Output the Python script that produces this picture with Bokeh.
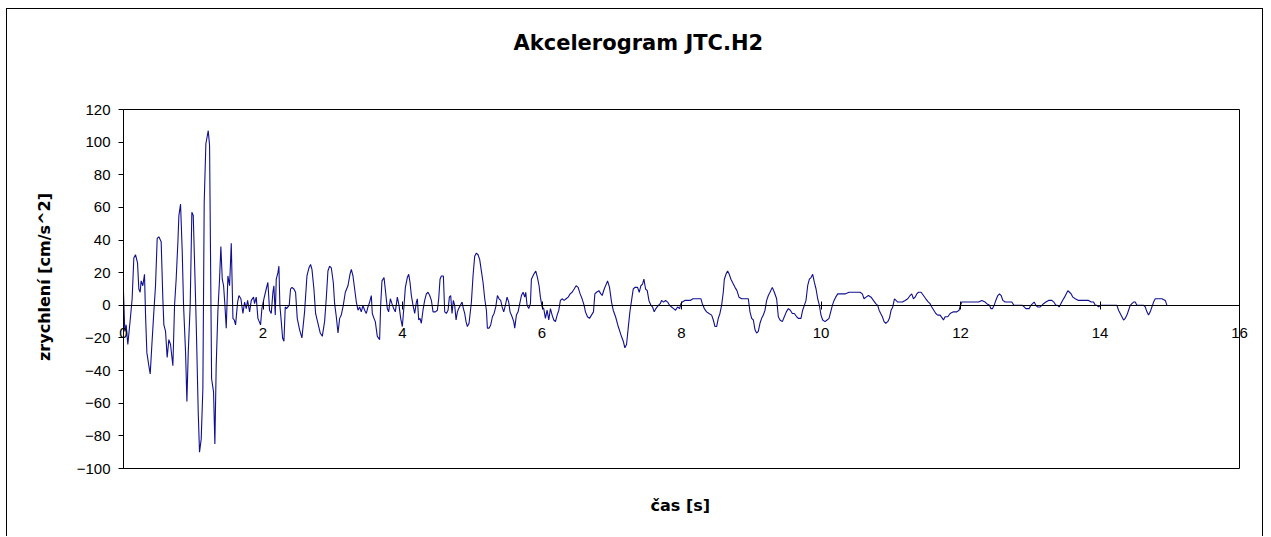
from bokeh.plotting import figure
from bokeh.models import Range1d, FixedTicker, LinearAxis, Title
from bokeh.embed import file_html
from bokeh.resources import INLINE

# --- digitised accelerogram, split into time windows ---
t_0_2 = [0.000, 0.019, 0.038, 0.062, 0.096, 0.124, 0.148, 0.172, 0.201, 0.220, 0.239, 0.253, 0.277, 0.301,
         0.316, 0.335, 0.363, 0.383, 0.407, 0.435, 0.459, 0.483, 0.507, 0.540, 0.564, 0.579, 0.603, 0.626,
         0.650, 0.674, 0.708, 0.732, 0.755, 0.780, 0.794, 0.818, 0.842, 0.861, 0.890, 0.909, 0.928, 0.956,
         0.980, 1.000, 1.023, 1.043, 1.071, 1.090, 1.114, 1.138, 1.157, 1.181, 1.215, 1.234, 1.263, 1.291,
         1.310, 1.329, 1.353, 1.377, 1.396, 1.416, 1.435, 1.454, 1.473, 1.497, 1.521, 1.545, 1.569, 1.588,
         1.607, 1.636, 1.655, 1.683, 1.712, 1.736, 1.760, 1.779, 1.808, 1.832, 1.865]
a_0_2 = [8, -16, -12, -24, -9, 4, 29, 31, 26, 10, 8, 15, 12, 19,
         -6, -29, -37, -42, -24, -4, 12, 41, 42, 39, 4, -12, -16, -32,
         -21, -24, -37, 0, 16, 39, 55, 62, 33, 0, -29, -59, -29, 0,
         57, 55, 20, -12, -65, -90, -82, -51, 63, 99, 107, 98, -45, -53,
         -85, -37, -4, 16, 36, 16, 12, 0, -14, 18, 12, 38, -8, -9,
         -12, 2, 6, 4, -5, 2, -2, 3, -4, 3, 5]

t_2_4 = [1.879, 1.903, 1.927, 1.965, 1.984, 2.013, 2.046, 2.070, 2.094, 2.118, 2.142, 2.156, 2.176, 2.190,
         2.214, 2.228, 2.242, 2.262, 2.281, 2.300, 2.319, 2.338, 2.357, 2.376, 2.395, 2.415, 2.443, 2.467,
         2.491, 2.525, 2.558, 2.596, 2.630, 2.659, 2.682, 2.702, 2.730, 2.754, 2.788, 2.821, 2.850, 2.883,
         2.907, 2.931, 2.955, 2.979, 3.008, 3.027, 3.051, 3.075, 3.099, 3.122, 3.151, 3.180, 3.218, 3.247,
         3.266, 3.290, 3.314, 3.338, 3.362, 3.385, 3.409, 3.433, 3.457, 3.481, 3.505, 3.529, 3.553, 3.567,
         3.591, 3.610, 3.639, 3.672, 3.687, 3.706, 3.735, 3.758, 3.782, 3.801, 3.826, 3.849, 3.873, 3.897,
         3.926, 3.950, 3.974, 3.998, 4.022, 4.041, 4.069, 4.089, 4.108, 4.127, 4.151, 4.175, 4.199, 4.213,
         4.232, 4.251, 4.270, 4.294]
a_2_4 = [1, 5, -8, -12, -2, 4, 10, 14, -3, -5, 8, 12, -6, 16,
         20, 24, 0, -10, -20, -22, -1, -2, -1, 0, 10, 11, 10, 8,
         -8, -15, -20, -4, 18, 23, 25, 22, 10, -5, -11, -17, -19, -10,
         4, 21, 24, 23, 14, 1, -7, -17, -8, -6, 0, 8, 12, 19,
         22, 18, 10, 2, -3, -1, -4, 0, -3, -5, -1, 2, 6, -5,
         -8, -10, -19, -21, 0, 15, 17, 8, -2, -4, 4, 1, -2, -4,
         5, 0, -8, -13, 0, 11, 17, 19, 14, 6, 0, -5, 2, 4,
         -9, -8, -11, -3]

t_4_7 = [4.318, 4.342, 4.366, 4.390, 4.414, 4.438, 4.471, 4.500, 4.519, 4.538, 4.557, 4.586, 4.605, 4.629,
         4.653, 4.672, 4.691, 4.710, 4.729, 4.748, 4.768, 4.787, 4.806, 4.830, 4.854, 4.873, 4.892, 4.911,
         4.930, 4.954, 4.988, 5.011, 5.035, 5.059, 5.083, 5.107, 5.131, 5.155, 5.179, 5.203, 5.217, 5.241,
         5.265, 5.289, 5.313, 5.337, 5.361, 5.384, 5.408, 5.428, 5.451, 5.475, 5.499, 5.523, 5.542, 5.571,
         5.595, 5.609, 5.633, 5.657, 5.681, 5.705, 5.729, 5.753, 5.767, 5.786, 5.810, 5.834, 5.848, 5.882,
         5.911, 5.935, 5.958, 5.977, 6.001, 6.025, 6.049, 6.073, 6.097, 6.121, 6.145, 6.169, 6.193, 6.217,
         6.241, 6.264, 6.288, 6.317, 6.346, 6.375, 6.403, 6.432, 6.461, 6.489, 6.518, 6.547, 6.575, 6.604,
         6.623, 6.652, 6.681, 6.709, 6.738]
a_4_7 = [3, 7, 8, 6, 3, -4, -4, -3, 4, 16, 18, 18, -4, -5,
         -3, 5, 6, -5, 3, 0, -9, -4, -2, 0, 2, -2, -5, -10,
         -13, -11, 2, 18, 30, 32, 31, 28, 21, 14, 4, -3, -14, -14,
         -12, -7, -5, -1, 6, 4, 3, -1, -4, 0, 5, 2, -4, -7,
         -10, -14, -6, -4, 1, 6, 8, 5, 8, 0, -2, 1, 16, 19,
         21, 17, 12, 5, -1, -2, -8, -3, -9, -2, -6, -9, -10, -6,
         -3, 3, 4, 3, 4, 5, 7, 8, 10, 12, 11, 7, 4, 0,
         -4, -7, -8, -6, -4]

t_7_9 = [6.758, 6.782, 6.815, 6.844, 6.863, 6.892, 6.921, 6.940, 6.968, 6.997, 7.021, 7.055, 7.093, 7.131,
         7.165, 7.188, 7.212, 7.236, 7.260, 7.284, 7.308, 7.332, 7.370, 7.394, 7.418, 7.442, 7.461, 7.485,
         7.509, 7.533, 7.561, 7.585, 7.609, 7.633, 7.667, 7.695, 7.714, 7.743, 7.772, 7.801, 7.829, 7.858,
         7.887, 7.915, 7.944, 7.973, 7.992, 8.011, 8.049, 8.088, 8.126, 8.164, 8.202, 8.241, 8.279, 8.298,
         8.327, 8.360, 8.394, 8.432, 8.456, 8.480, 8.504, 8.527, 8.551, 8.575, 8.599, 8.614, 8.637, 8.661,
         8.685, 8.709, 8.743, 8.767, 8.795, 8.824, 8.862, 8.910, 8.958, 8.982, 9.006, 9.030, 9.054, 9.077,
         9.101, 9.125, 9.149, 9.173]
a_7_9 = [7, 8, 9, 7, 6, 10, 13, 15, 11, 2, -3, -7, -13, -18,
         -22, -26, -24, -14, -4, 3, 10, 11, 11, 8, 12, 13, 16, 10,
         9, 3, 0, -1, -4, -2, 0, 1, 3, 2, 3, 2, 0, -1,
         -2, -3, -1, -2, 1, 2, 3, 3, 3, 4, 4, 4, 4, 1,
         -2, -4, -5, -6, -9, -13, -13, -8, -5, 0, 8, 16, 19, 21,
         19, 16, 13, 11, 9, 5, 4, 4, 4, -4, -8, -9, -15, -17,
         -16, -11, -8, -6]

t_9_12 = [9.197, 9.221, 9.245, 9.269, 9.302, 9.331, 9.364, 9.388, 9.412, 9.446, 9.474, 9.503, 9.532, 9.560,
          9.589, 9.618, 9.651, 9.675, 9.713, 9.737, 9.761, 9.785, 9.809, 9.833, 9.857, 9.881, 9.905, 9.929,
          9.953, 9.977, 10.000, 10.024, 10.058, 10.087, 10.115, 10.139, 10.163, 10.187, 10.211, 10.240,
          10.287, 10.345, 10.402, 10.450, 10.512, 10.560, 10.593, 10.617, 10.646, 10.680, 10.718, 10.751,
          10.785, 10.813, 10.833, 10.856, 10.880, 10.904, 10.928, 10.957, 10.981, 11.005, 11.029, 11.053,
          11.076, 11.100, 11.134, 11.167, 11.206, 11.244, 11.277, 11.301, 11.325, 11.349, 11.373, 11.397,
          11.435, 11.469, 11.502, 11.540, 11.564, 11.588, 11.617, 11.646, 11.674, 11.708]
a_9_12 = [-3, 3, 6, 8, 11, 8, 4, -7, -9, -10, -7, -4, -2, -3,
          -5, -5, -7, -8, -8, -3, 0, 3, 12, 16, 17, 19, 14, 10,
          4, 0, -6, -9, -10, -9, -8, -4, 0, 3, 5, 7,
          7, 7, 8, 8, 8, 8, 7, 4, 5, 6, 5, 3,
          1, 0, -3, -5, -7, -10, -11, -10, -8, -3, -1, 4,
          3, 2, 2, 2, 3, 4, 6, 7, 4, 5, 7, 8,
          8, 6, 4, 2, 1, -1, -3, -5, -6, -6]

t_12_14 = [11.741, 11.756, 11.779, 11.818, 11.851, 11.899, 11.947, 11.980, 11.999, 12.019, 12.066, 12.114,
           12.162, 12.210, 12.258, 12.306, 12.353, 12.377, 12.416, 12.435, 12.459, 12.483, 12.506, 12.535,
           12.559, 12.583, 12.607, 12.640, 12.688, 12.736, 12.765, 12.808, 12.856, 12.889, 12.913, 12.937,
           12.961, 12.985, 13.009, 13.033, 13.056, 13.080, 13.109, 13.142, 13.166, 13.190, 13.224, 13.262,
           13.310, 13.338, 13.367, 13.391, 13.415, 13.439, 13.463, 13.492, 13.515, 13.539, 13.563, 13.587,
           13.611, 13.645, 13.692, 13.740, 13.788, 13.836, 13.874, 13.908, 13.932, 13.956, 13.979]
a_12_14 = [-8, -9, -7, -7, -5, -4, -4, -3, 0, 2, 2, 2,
           2, 2, 2, 3, 2, 1, 0, -2, -2, 0, 3, 6,
           7, 6, 3, 2, 2, 2, 0, 0, 0, 0, -1, -2,
           -2, -2, 0, 1, 2, 0, -1, -1, 0, 1, 2, 3,
           3, 2, 0, 0, -1, 1, 3, 5, 7, 9, 8, 7,
           5, 4, 3, 3, 3, 3, 2, 2, 0, 0, -1]

t_14_15 = [14.003, 14.099, 14.170, 14.242, 14.266, 14.290, 14.314, 14.338, 14.362, 14.386, 14.410, 14.433,
           14.457, 14.481, 14.505, 14.529, 14.577, 14.625, 14.649, 14.673, 14.696, 14.720, 14.744, 14.768,
           14.792, 14.840, 14.888, 14.936, 14.960]
a_14_15 = [0, 0, 0, 0, -3, -5, -7, -9, -8, -6, -3, 0,
           1, 2, 2, 0, 0, 0, -1, -4, -6, -4, -1, 2,
           4, 4, 4, 3, 0]

x_ticks = [0, 2, 4, 6, 8, 10, 12, 14, 16]
y_ticks = [-100, -80, -60, -40, -20, 0, 20, 40, 60, 80, 100, 120]

title_text = "Akcelerogram JTC.H2"
x_label = "čas [s]"
y_label = "zrychlení [cm/s^2]"

time_s = t_0_2 + t_2_4 + t_4_7 + t_7_9 + t_9_12 + t_12_14 + t_14_15
accel = a_0_2 + a_2_4 + a_4_7 + a_7_9 + a_9_12 + a_12_14 + a_14_15

TICK_FONT = "Liberation Sans"
LABEL_FONT = "DejaVu Sans"

# layout (pixels): the Bokeh frame is larger than the drawn plot area so that
# tick labels of the axes that cross inside it are never clipped
AREA_W, AREA_H = 1116, 359          # drawn plot-area size
PAD_L, PAD_R, PAD_T, PAD_B = 56, 18, 40, 16
x0, x1 = x_ticks[0], x_ticks[-1]
y0, y1 = y_ticks[0], y_ticks[-1]
sx = (x1 - x0) / AREA_W
sy = (y1 - y0) / AREA_H
x_range = Range1d(x0 - PAD_L * sx, x1 + PAD_R * sx)
y_range = Range1d(y0 - PAD_B * sy, y1 + PAD_T * sy)

p = figure(width=1257, height=528, output_backend="svg", toolbar_location=None, title=None,
           x_range=x_range, y_range=y_range,
           min_border_left=60, min_border_right=7, min_border_top=60, min_border_bottom=53,
           background_fill_color="white", border_fill_color="white")

p.styles = {"margin-left": "6px", "margin-top": "8px",
            "border-left": "1px solid #000", "border-top": "1px solid #000",
            "border-right": "1px solid #000"}

p.xgrid.visible = False
p.ygrid.visible = False
p.outline_line_color = None

# chart title, centred on the whole chart area
p.add_layout(Title(text=title_text, align="left", offset=446, standoff=29,
                   vertical_align="bottom", text_font=LABEL_FONT, text_font_size="21px",
                   text_font_style="bold", text_color="black"), "above")

# x axis title, centred under the plot area
p.xaxis[0].visible = False
p.add_layout(Title(text=x_label, align="left", offset=583, standoff=23,
                   vertical_align="top", text_font=LABEL_FONT, text_font_size="16px",
                   text_font_style="bold", text_color="black"), "below")

# outer left axis: only carries the axis title
ly = p.yaxis[0]
ly.ticker = FixedTicker(ticks=[])
ly.axis_line_color = None
ly.major_tick_out = 0
ly.major_tick_in = 0
ly.minor_tick_line_color = None
ly.axis_label = y_label
ly.axis_label_text_font = LABEL_FONT
ly.axis_label_text_font_size = "16px"
ly.axis_label_text_font_style = "bold"
ly.axis_label_text_color = "black"
ly.axis_label_standoff = 14

# plot-area border
p.quad(left=[x0], right=[x1], bottom=[y0], top=[y1], fill_color=None,
       line_color="black", line_width=1)

# y axis at t = 0
ya = LinearAxis(fixed_location=0, ticker=FixedTicker(ticks=y_ticks), bounds=(y0, y1))
ya.major_tick_in = 0
ya.major_tick_out = 5
ya.minor_tick_line_color = None
ya.axis_line_color = "black"
ya.major_tick_line_color = "black"
ya.major_label_standoff = 8
ya.major_label_text_font = TICK_FONT
ya.major_label_text_font_size = "15px"
ya.major_label_text_color = "black"
p.add_layout(ya, "left")

# x axis crossing at a = 0
xa = LinearAxis(fixed_location=0, ticker=FixedTicker(ticks=x_ticks), bounds=(x0, x1))
xa.major_tick_in = 4
xa.major_tick_out = 4
xa.minor_tick_line_color = None
xa.axis_line_color = "black"
xa.major_tick_line_color = "black"
xa.major_label_standoff = 19
xa.major_label_text_font = TICK_FONT
xa.major_label_text_font_size = "15px"
xa.major_label_text_color = "black"
p.add_layout(xa, "below")

p.line(time_s, accel, line_color="#10108f", line_width=1.1)

open("out.html", "w").write(file_html(p, INLINE))
